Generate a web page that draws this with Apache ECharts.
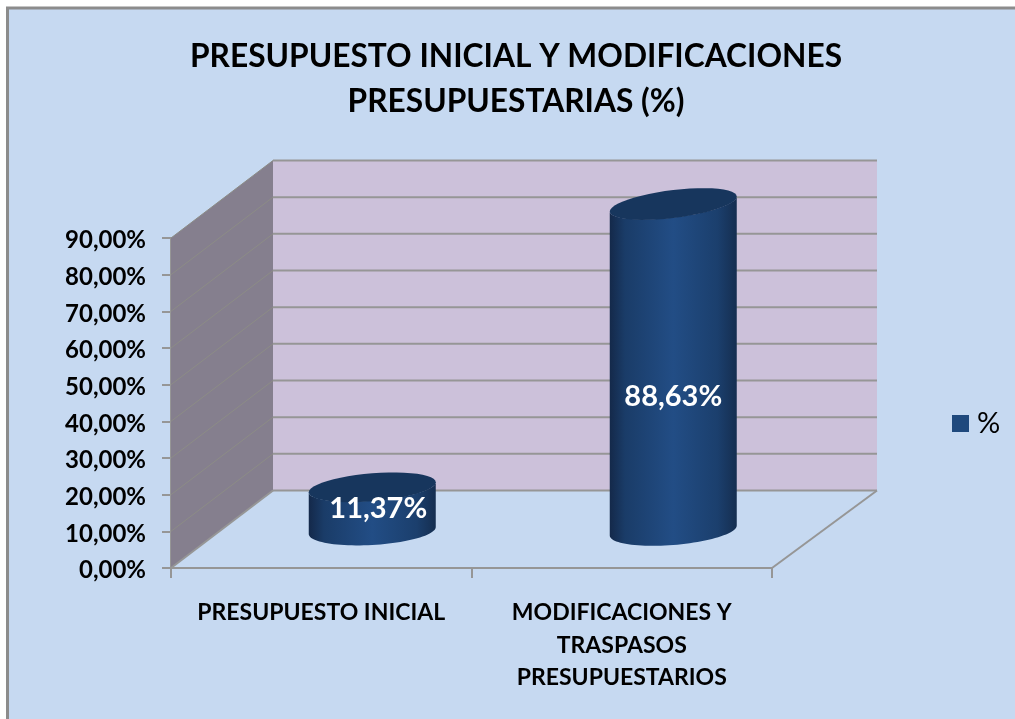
<!DOCTYPE html>
<html>
<head>
<meta charset="utf-8">
<style>
  html, body { margin: 0; padding: 0; background: #fff; }
  #chart { width: 1015px; height: 719px; }
</style>
<script src="https://cdn.jsdelivr.net/npm/echarts@6/dist/echarts.min.js"></script>
</head>
<body>
<div id="chart"></div>
<script>
const titleText = 'PRESUPUESTO INICIAL Y MODIFICACIONES\nPRESUPUESTARIAS (%)'
const seriesName = '%'
const categories = ['PRESUPUESTO INICIAL', 'MODIFICACIONES Y\nTRASPASOS\nPRESUPUESTARIOS']
const percentValues = [11.37, 88.63]
const percentLabels = ['11,37%', '88,63%']
const tickValues = [0, 10, 20, 30, 40, 50, 60, 70, 80, 90]
const tickLabels = ['0,00%', '10,00%', '20,00%', '30,00%', '40,00%', '50,00%', '60,00%', '70,00%', '80,00%', '90,00%']

const fontName = 'Lato'
const lineGray = '#969696'
// how far the back wall sits behind the front plane, in px
const depthX = 102
const depthXRight = 105
const depthY = 77.5

const chart = echarts.init(document.getElementById('chart'))

// side wall, back wall and floor edges, all taken from the axes
const renderWalls = (params, api) => {
  const left = api.coord([0, 0])[0] - api.size([1, 0])[0] / 2
  const right = left + api.size([1, 0])[0] * categories.length
  const y0 = api.coord([0, 0])[1]
  const yTop = api.coord([0, 90])[1]

  const children = [
    {
      type: 'polygon',
      shape: { points: [[left, yTop], [left + depthX, yTop - depthY], [left + depthX, y0 - depthY], [left, y0]] },
      style: { fill: '#857f8e' }
    },
    {
      type: 'rect',
      shape: { x: left + depthX, y: yTop - depthY, width: right + depthXRight - left - depthX, height: y0 - yTop },
      style: { fill: '#ccc1da' }
    }
  ]

  tickValues.forEach((v) => {
    const y = api.coord([0, v])[1]
    children.push({
      type: 'line',
      shape: { x1: left + depthX, y1: y - depthY, x2: right + depthXRight, y2: y - depthY },
      style: { stroke: lineGray, lineWidth: 2 }
    })
    if (v > 0) {
      children.push({
        type: 'line',
        shape: { x1: left, y1: y, x2: left + depthX, y2: y - depthY },
        style: { stroke: '#8c8c86', lineWidth: 1 }
      })
    }
  })

  children.push({
    type: 'line',
    shape: { x1: left, y1: y0, x2: left + depthX, y2: y0 - depthY },
    style: { stroke: lineGray, lineWidth: 2 }
  })
  children.push({
    type: 'line',
    shape: { x1: right, y1: y0, x2: right + depthXRight, y2: y0 - depthY },
    style: { stroke: lineGray, lineWidth: 2 }
  })

  return { type: 'group', children }
}

// sheared ellipse points, from angle a to angle b
const ellipseArc = (cx, cy, rx, ry, shear, a, b) => {
  const pts = []
  for (let i = 0; i <= 48; i++) {
    const t = a + (b - a) * i / 48
    pts.push([cx + rx * Math.cos(t), cy - shear * Math.cos(t) + ry * Math.sin(t)])
  }
  return pts
}

const renderCylinder = (params, api) => {
  const i = api.value(0)
  const top = api.coord([i, api.value(1)])
  const base = api.coord([i, 0])
  const cx = top[0] + depthX / 2 + (i === 0 ? 0 : 0.5)
  const rx = 63.5
  const topY = top[1] - 39
  const baseY = base[1] - 37.5

  const topShear = i === 0 ? 5 : 7.5
  const baseShear = i === 0 ? 3.5 : 5
  const bottomEdge = ellipseArc(cx, baseY, rx, 14.5, baseShear, Math.PI, 0)
  const topEdge = ellipseArc(cx, topY, rx, 13.5, topShear, 0, Math.PI)

  // label sits lower on the tall bar, a bit right on the short one
  const labelX = cx + (i === 0 ? 6 : 0)
  const labelY = i === 0 ? (topY + baseY) / 2 : (topY + baseY) / 2 + 29

  return {
    type: 'group',
    children: [
      {
        type: 'polygon',
        shape: { points: bottomEdge.slice().reverse().concat(topEdge.slice().reverse()) },
        style: {
          fill: new echarts.graphic.LinearGradient(0, 0, 1, 0, [
            { offset: 0, color: '#14294a' },
            { offset: 0.12, color: '#1a3c68' },
            { offset: 0.5, color: '#224d85' },
            { offset: 0.85, color: '#1b3f6d' },
            { offset: 1, color: '#152e50' }
          ])
        }
      },
      {
        type: 'polygon',
        shape: { points: ellipseArc(cx, topY, rx, 14, topShear, 0, Math.PI * 2) },
        style: { fill: '#17365d' }
      },
      {
        type: 'text',
        style: {
          x: labelX,
          y: labelY,
          text: percentLabels[i],
          fill: '#ffffff',
          font: 'bold 29px ' + fontName,
          align: 'center',
          verticalAlign: 'middle'
        }
      }
    ]
  }
}

const option = {
  animation: false,
  backgroundColor: '#ffffff',
  textStyle: { fontFamily: fontName },
  graphic: [
    {
      type: 'rect',
      z: -10,
      shape: { x: 7.5, y: 8, width: 1030, height: 730 },
      style: { fill: '#c6d9f1', stroke: '#8c8c8c', lineWidth: 3 }
    }
  ],
  title: {
    text: titleText,
    left: 511,
    top: 30,
    textAlign: 'center',
    textStyle: { fontSize: 31.7, fontWeight: 'bold', color: '#000', lineHeight: 44.5, fontFamily: fontName }
  },
  legend: {
    data: [seriesName],
    left: 947,
    top: 404,
    icon: 'rect',
    itemWidth: 17,
    itemHeight: 17,
    itemGap: 0,
    textStyle: { fontSize: 29, color: '#000', fontFamily: fontName, padding: [0, 0, 0, 3] }
  },
  grid: { left: 171, top: 238, width: 601, height: 330 },
  xAxis: {
    type: 'category',
    data: categories,
    axisLine: { lineStyle: { color: lineGray, width: 2 } },
    axisTick: { show: true, interval: 0, length: 10, lineStyle: { color: lineGray, width: 2 } },
    axisLabel: { interval: 0, hideOverlap: false, color: '#000', fontSize: 23, fontWeight: 'bold', lineHeight: 32.5, margin: 28.5, fontFamily: fontName }
  },
  yAxis: {
    type: 'value',
    min: 0,
    max: 90,
    interval: 10,
    axisLine: { show: true, lineStyle: { color: lineGray, width: 2 } },
    axisTick: { show: true, length: 9, lineStyle: { color: lineGray, width: 2 } },
    splitLine: { show: false },
    axisLabel: {
      margin: 25,
      formatter: (v) => '{t|' + tickLabels[tickValues.indexOf(v)] + '}',
      rich: {
        // top padding nudges the text just under the tick, as in the original
        t: { color: '#000', fontSize: 24, fontWeight: 'bold', fontFamily: fontName, padding: [5, 0, 0, 0] }
      }
    }
  },
  series: [
    {
      type: 'custom',
      name: 'walls',
      z: 1,
      silent: true,
      renderItem: renderWalls,
      data: [[0, 0]]
    },
    {
      type: 'custom',
      name: seriesName,
      z: 3,
      itemStyle: { color: '#1f497d' },
      renderItem: renderCylinder,
      data: percentValues.map((v, i) => [i, v])
    }
  ]
}

chart.setOption(option)
</script>
</body>
</html>
